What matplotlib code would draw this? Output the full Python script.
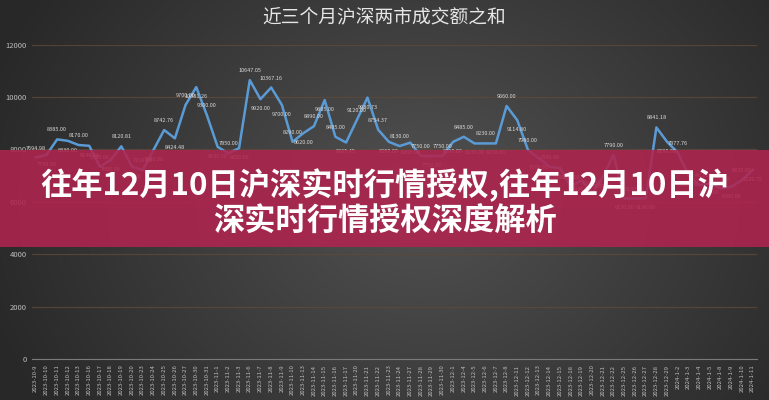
import numpy as np
import matplotlib
matplotlib.use("Agg")
import matplotlib.pyplot as plt
from matplotlib.patches import Rectangle

plt.rcParams["font.family"] = ["Noto Sans CJK SC", "DejaVu Sans"]

TITLE = "近三个月沪深两市成交额之和"
BANNER = ["往年12月10日沪深实时行情授权,往年12月10日沪", "深实时行情授权深度解析"]

dates = [
    "2023-10-9", "2023-10-10", "2023-10-11", "2023-10-12", "2023-10-13",
    "2023-10-16", "2023-10-17", "2023-10-18", "2023-10-19", "2023-10-20",
    "2023-10-23", "2023-10-24", "2023-10-25", "2023-10-26", "2023-10-27",
    "2023-10-30", "2023-10-31", "2023-11-1", "2023-11-2", "2023-11-3",
    "2023-11-6", "2023-11-7", "2023-11-8", "2023-11-9", "2023-11-10",
    "2023-11-13", "2023-11-14", "2023-11-15", "2023-11-16", "2023-11-17",
    "2023-11-20", "2023-11-21", "2023-11-22", "2023-11-23", "2023-11-24",
    "2023-11-27", "2023-11-28", "2023-11-29", "2023-11-30", "2023-12-1",
    "2023-12-4", "2023-12-5", "2023-12-6", "2023-12-7", "2023-12-8",
    "2023-12-11", "2023-12-12", "2023-12-13", "2023-12-14", "2023-12-15",
    "2023-12-18", "2023-12-19", "2023-12-20", "2023-12-21", "2023-12-22",
    "2023-12-25", "2023-12-26", "2023-12-27", "2023-12-28", "2023-12-29",
    "2024-1-2", "2024-1-3", "2024-1-4", "2024-1-5", "2024-1-8",
    "2024-1-9", "2024-1-10", "2024-1-11",
]

turnover = [
    7694.98, 7790.00, 8385.00, 8330.00, 8170.00,
    8140.00, 7340.00, 7600.00, 8120.81, 7340.00,
    7210.00, 7980.00, 8742.76, 8424.48, 9700.00,
    10381.26, 9300.00, 8100.00, 7850.00, 8050.00,
    10647.05, 9920.00, 10367.16, 9700.00, 8290.00,
    8620.00, 8890.00, 9885.00, 8485.00, 8265.45,
    9120.00, 9980.73, 8754.37, 8290.00, 8130.00,
    8260.00, 7750.00, 7750.00, 7750.00, 8290.00,
    8485.00, 8230.00, 8230.00, 8230.00, 9660.00,
    9114.80, 7980.00, 7670.00, 7340.00, 7290.00,
    6580.00, 6830.00, 6330.00, 6960.00, 7790.00,
    6130.00, 6130.00, 6130.00, 8841.18, 8290.00,
    7877.76, 7020.00, 6640.00, 6700.00, 6510.00,
    6580.00, 6830.00, 7220.75,
]

W, H = 769, 400
fig = plt.figure(figsize=(W / 100, H / 100), dpi=100)

# radial grey background
bg = fig.add_axes([0, 0, 1, 1], zorder=-5)
yy, xx = np.mgrid[0:1:200j, 0:1:400j]
r = np.sqrt(((xx - 0.55) * 1.6) ** 2 + ((yy - 0.5) * 1.0) ** 2)
shade = np.clip(0.32 - 0.17 * r, 0.16, 0.32)
bg.imshow(np.dstack([shade] * 3), extent=[0, 1, 0, 1], aspect="auto", origin="lower")
bg.set_axis_off()

ax = fig.add_axes([32 / W, (H - 359) / H, 725 / W, (359 - 44.7) / H])
ax.set_facecolor("none")
x = np.arange(len(dates))
ax.plot(x, turnover, color="#5b9bd5", lw=1.8, zorder=3)
# data labels, alternating above / below the line like the spreadsheet export
for i, v in enumerate(turnover):
    dy = 5 if i % 2 == 0 else -5
    ax.annotate(f"{v:.2f}", (i, v), xytext=(0, dy), textcoords="offset points",
                ha="center", va="bottom" if dy > 0 else "top",
                fontsize=4, color="#d8d8d8", zorder=4)

ax.set_xlim(-0.35, len(dates) - 0.6)
ax.set_ylim(0, 12000)
ax.set_yticks(range(0, 12001, 2000))
ax.set_yticklabels([str(t) for t in range(0, 12001, 2000)])
ax.set_xticks(x)
ax.set_xticklabels(dates, rotation=90, fontsize=4.3, color="#bdbdbd")
ax.tick_params(axis="y", labelsize=5.5, labelcolor="#bdbdbd", length=0, pad=4)
ax.tick_params(axis="x", length=0, pad=4)
ax.grid(axis="y", color="#5e4a3a", lw=0.9, alpha=0.8)
ax.set_axisbelow(True)
for s in ["top", "right", "left"]:
    ax.spines[s].set_visible(False)
ax.spines["bottom"].set_color("#7a7a7a")

fig.text(0.5, 1 - 17 / H, TITLE, ha="center", va="center", fontsize=13.5, color="#e6e6e6")

# red banner over the chart
fig.patches.append(Rectangle((0, (H - 247) / H), 1, 97 / H, transform=fig.transFigure,
                             facecolor=(0.69, 0.14, 0.31), alpha=0.88, edgecolor="none", zorder=10))
fig.text(0.5, 1 - 185 / H, BANNER[0], ha="center", va="center", fontsize=22.5,
         fontweight="bold", color="white", zorder=11)
fig.text(0.5, 1 - 222 / H, BANNER[1], ha="center", va="center", fontsize=22.5,
         fontweight="bold", color="white", zorder=11)

fig.savefig("out.png", dpi=100)
